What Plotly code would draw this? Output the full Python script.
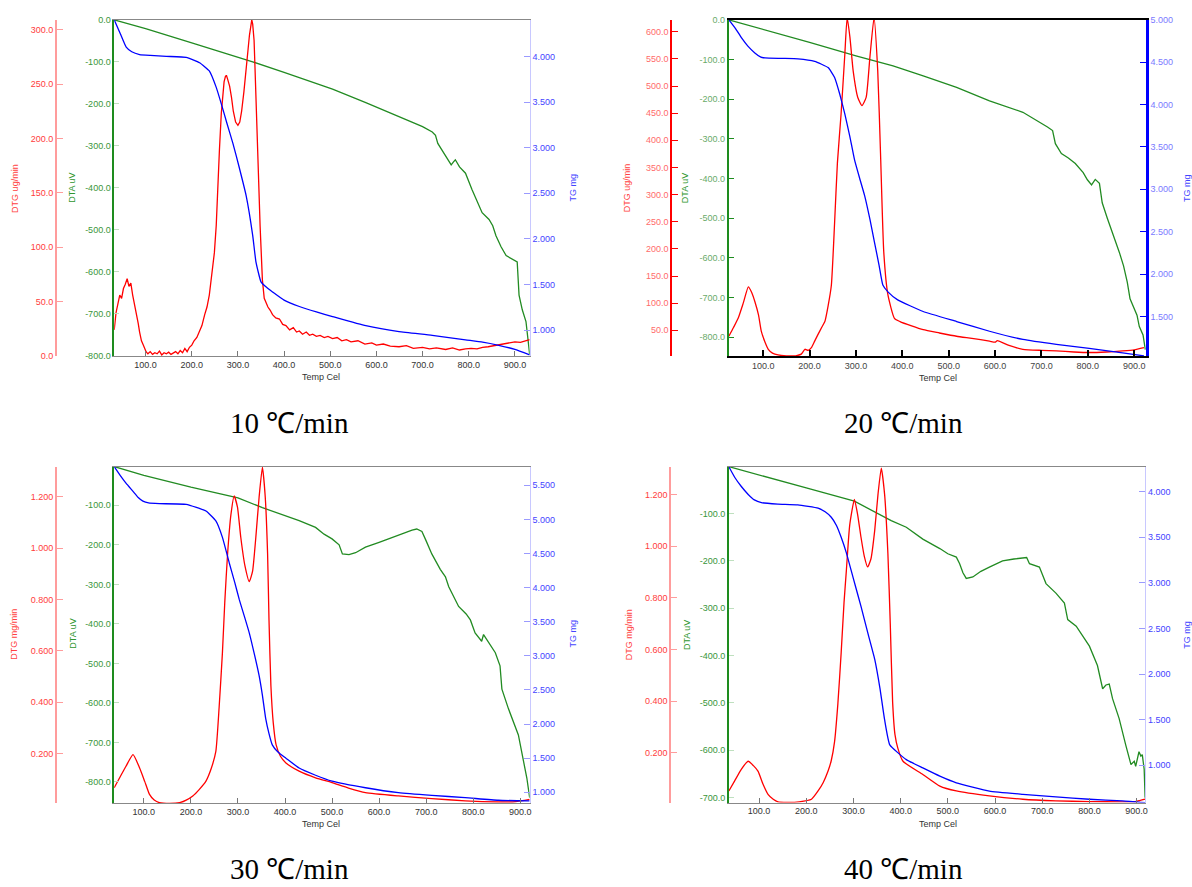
import plotly.graph_objects as go

# ---------------- data ----------------
# 10 C/min
T10_dtg = [32, 36, 40, 44, 48, 52, 56, 60, 64, 68, 72, 76, 80, 84, 87, 91, 95, 98, 101,
           105, 110, 115, 120, 125, 130, 135, 140, 145, 150, 155, 160, 165, 170, 175, 180, 185, 190, 195,
           200, 205, 211, 217, 222, 228, 233, 238, 243, 249, 253, 256, 260, 264, 267, 270, 273, 275, 278, 282,
           286, 290, 295, 300,
           304, 308, 313, 318, 322, 325, 328, 330, 332, 335, 337, 339, 342, 345, 348, 350, 353, 357, 361, 365,
           370, 375, 382, 390, 397, 404,
           412, 420, 427, 433, 440, 448, 455, 462, 470, 478, 487, 495, 505, 515, 525, 535, 545, 560, 575, 590,
           600, 615, 630, 649, 665, 680, 700, 715, 730, 750, 765, 780, 793, 805, 818, 830, 842, 855, 865, 877,
           890, 900, 912, 922, 932]
dtg10 = [24, 40, 48, 56, 53, 62, 66, 71, 64, 67, 56, 48, 38, 30, 22, 14, 10, 6, 4,
         2, 4, 1.5, 3, 2, 4.5, 1, 3, 2, 3.5, 1.5, 2.5, 4, 2, 5, 3, 7, 4, 8,
         10, 14, 17, 23, 28, 38, 45, 56, 72, 95, 120, 153, 190, 223, 240, 252, 257, 258, 254, 248,
         238, 225, 215, 212,
         215, 225, 243, 262, 282, 295, 305, 309, 305, 290, 265, 232, 195, 160, 120, 95, 70, 53, 48, 45,
         42, 38, 35, 34, 29, 28,
         24, 26, 22, 23, 20, 22, 19, 20, 18, 19, 17, 18, 16, 17, 14, 15, 13, 14, 11, 12,
         10, 11, 9, 8.5, 9.5, 7, 8, 6.5, 7.5, 6, 7.5, 5.5, 6.5, 7, 6.5, 8, 8.5, 9.5, 10.5, 11,
         12, 13, 12.5, 14, 15]
T10_tg = [32, 45, 58, 70, 87, 110, 145, 188, 217, 238, 253, 264, 276, 289, 303, 318, 332, 339, 350, 362,
          375, 400, 433, 470, 505, 577, 649, 721, 793, 830, 865, 900, 932]
tg10 = [4.40, 4.25, 4.10, 4.05, 4.02, 4.01, 4.00, 3.99, 3.93, 3.84, 3.66, 3.48, 3.27, 3.05, 2.78, 2.47, 2.04, 1.75, 1.53, 1.47,
        1.42, 1.33, 1.26, 1.20, 1.15, 1.05, 0.985, 0.945, 0.895, 0.87, 0.835, 0.79, 0.73]
T10_dta = [32, 100, 200, 300, 332, 400, 433, 469, 505, 577, 649, 700, 721, 728, 733, 747, 755, 762, 767, 771,
           780, 793, 807, 818, 829, 844, 852, 859, 870, 881, 895, 905, 909, 916, 924, 932]
dta10 = [0, -21, -55, -89, -100, -125, -138, -152, -165, -197, -231, -254, -267, -275, -294, -318, -330, -345, -338, -333,
         -350, -365, -404, -430, -459, -475, -490, -514, -540, -561, -570, -576, -655, -690, -718, -796]

# 20 C/min
T20_dtg = [26, 36, 46, 57, 68, 75, 82, 90, 96, 104, 111, 120, 132, 150, 170, 182, 190, 197, 204, 211,
           218, 226, 233, 240, 247, 254, 260, 268, 276, 281, 287, 294, 304, 313, 322, 330, 339, 347, 353, 360,
           369, 383, 395, 420, 445, 480, 517, 550, 588, 600, 605, 630, 660, 700, 732, 770, 803, 840, 875, 900, 921]
dtg20 = [39, 55, 72, 100, 130, 120, 103, 78, 48, 28, 15, 8, 4.5, 3, 3, 6, 15, 13, 18, 30,
         42, 55, 66, 95, 133, 248, 358, 449, 558, 626, 590, 528, 479, 464, 479, 552, 626, 528, 376, 194,
         115, 72, 66, 58, 51, 45, 39, 35, 30, 28, 31, 22, 15, 13, 12, 10, 9, 10, 12, 14, 18]
T20_tg = [26, 40, 53, 67, 82, 95, 104, 140, 175, 211, 240, 254, 265, 276, 287, 297, 308, 319, 330, 340,
          350, 358, 369, 390, 445, 517, 588, 660, 732, 803, 875, 921]
tg20 = [5.0, 4.90, 4.79, 4.69, 4.61, 4.56, 4.55, 4.545, 4.54, 4.51, 4.437, 4.32, 4.125, 3.89, 3.62, 3.347, 3.13, 2.92, 2.65, 2.375,
        2.10, 1.87, 1.79, 1.695, 1.558, 1.44, 1.325, 1.228, 1.17, 1.123, 1.07, 1.035]
T20_dta = [26, 100, 200, 300, 380, 445, 517, 588, 660, 713, 724, 730, 743, 758, 773, 790, 799, 808, 816, 825,
           831, 842, 853, 868, 877, 885, 891, 906, 911, 919, 924]
dta20 = [0, -24, -57, -91, -116, -141, -170, -204, -233, -270, -279, -312, -337, -348, -362, -385, -403, -416, -402, -412,
         -461, -500, -536, -586, -620, -661, -703, -744, -773, -794, -831]

# 30 C/min
T30_dtg = [37, 50, 62, 77, 91, 102, 112, 122, 133, 155, 176, 190, 204, 218, 232, 243, 253, 260, 267, 272,
           278, 285, 292, 299, 306, 315, 324, 331, 338, 345, 352, 358, 363, 366, 370, 375, 381, 390, 402, 430,
           465, 500, 535, 571, 641, 712, 783, 853, 890, 920]
dtg30 = [0.066, 0.11, 0.15, 0.195, 0.143, 0.09, 0.04, 0.018, 0.008, 0.005, 0.008, 0.018, 0.034, 0.06, 0.092, 0.14, 0.208, 0.38, 0.593, 0.79,
         0.979, 1.13, 1.204, 1.16, 1.043, 0.93, 0.87, 0.91, 1.043, 1.20, 1.316, 1.20, 0.979, 0.72, 0.465, 0.32, 0.234, 0.19, 0.163, 0.131,
         0.105, 0.086, 0.065, 0.047, 0.034, 0.024, 0.015, 0.011, 0.012, 0.021]
T30_tg = [37, 50, 62, 77, 88, 98, 110, 133, 190, 232, 253, 267, 282, 293, 303, 314, 324, 335, 345, 352,
          359, 366, 373, 385, 402, 430, 465, 500, 571, 641, 712, 783, 853, 920]
tg30 = [5.771, 5.64, 5.53, 5.41, 5.32, 5.267, 5.24, 5.23, 5.22, 5.122, 4.977, 4.736, 4.35, 4.08, 3.82, 3.57, 3.336, 3.02, 2.709, 2.42,
        2.08, 1.86, 1.695, 1.59, 1.50, 1.356, 1.25, 1.164, 1.067, 0.995, 0.955, 0.922, 0.884, 0.874]
T30_dta = [37, 100, 200, 300, 352, 430, 465, 483, 500, 515, 522, 536, 550, 571, 600, 628, 650, 670, 680, 691,
           700, 712, 730, 741, 748, 760, 769, 785, 794, 804, 818, 822, 835, 847, 857, 861, 875, 896, 907, 914, 920]
dta30 = [-2, -24, -54, -81, -106, -139, -156, -173, -185, -200, -223, -225, -220, -206, -194, -181, -172, -163, -160, -166,
         -190, -223, -262, -281, -306, -335, -356, -375, -390, -423, -444, -427, -450, -473, -506, -565, -615, -681, -748, -790, -840]

# 40 C/min
T40_dtg = [36, 48, 62, 77, 88, 98, 108, 119, 130, 140, 160, 185, 211, 225, 236, 246, 253, 260, 267, 274,
           280, 285, 292, 302, 309, 316, 323, 330, 337, 345, 352, 359, 366, 373, 378, 383, 388, 394, 405, 447,
           483, 518, 588, 659, 729, 800, 870, 900, 918]
dtg40 = [0.052, 0.09, 0.135, 0.167, 0.15, 0.128, 0.08, 0.039, 0.02, 0.01, 0.008, 0.01, 0.02, 0.052, 0.085, 0.128, 0.17, 0.243, 0.39, 0.588,
         0.78, 0.906, 1.08, 1.181, 1.12, 1.034, 0.96, 0.919, 0.95, 1.06, 1.20, 1.302, 1.20, 0.97, 0.70, 0.396, 0.27, 0.218, 0.167, 0.116,
         0.071, 0.052, 0.033, 0.02, 0.014, 0.011, 0.01, 0.012, 0.02]
T40_tg = [36, 49, 62, 77, 90, 105, 140, 182, 225, 240, 253, 264, 274, 285, 295, 305, 316, 330, 345, 356,
          366, 377, 412, 447, 483, 518, 588, 659, 729, 800, 870, 918]
tg40 = [4.274, 4.153, 4.06, 3.97, 3.91, 3.88, 3.865, 3.856, 3.82, 3.78, 3.72, 3.63, 3.50, 3.33, 3.14, 2.95, 2.743, 2.46, 2.164, 1.85,
        1.50, 1.224, 1.062, 0.971, 0.881, 0.808, 0.718, 0.682, 0.653, 0.628, 0.61, 0.59]
T40_dta = [36, 100, 200, 302, 380, 412, 447, 483, 500, 518, 525, 532, 539, 553, 570, 588, 616, 640, 659, 667,
           673, 694, 708, 729, 747, 754, 772, 800, 817, 828, 835, 842, 849, 863, 877, 888, 895, 898, 905, 909,
           912, 916, 918]
dta40 = [-1, -19, -46, -74, -115, -129, -154, -174, -185, -192, -206, -225, -237, -234, -222, -213, -200, -196, -195, -193,
         -206, -213, -248, -268, -289, -324, -338, -380, -421, -470, -462, -460, -491, -533, -589, -630, -623, -634, -603, -612,
         -609, -640, -700]

# tick label values
temp_ticks = [100, 200, 300, 400, 500, 600, 700, 800, 900]
dtg10_ticks = [0, 50, 100, 150, 200, 250, 300]
dtg20_ticks = [50, 100, 150, 200, 250, 300, 350, 400, 450, 500, 550, 600]
dtg3040_ticks = [0.2, 0.4, 0.6, 0.8, 1.0, 1.2]
dta_ticks_0 = [0, -100, -200, -300, -400, -500, -600, -700, -800]
dta_ticks_30 = [-100, -200, -300, -400, -500, -600, -700, -800]
dta_ticks_40 = [-100, -200, -300, -400, -500, -600, -700]
tg10_ticks = [1.0, 1.5, 2.0, 2.5, 3.0, 3.5, 4.0]
tg20_ticks = [1.5, 2.0, 2.5, 3.0, 3.5, 4.0, 4.5, 5.0]
tg30_ticks = [1.0, 1.5, 2.0, 2.5, 3.0, 3.5, 4.0, 4.5, 5.0, 5.5]
tg40_ticks = [1.0, 1.5, 2.0, 2.5, 3.0, 3.5, 4.0]

captions = ["10 ℃/min", "20 ℃/min", "30 ℃/min", "40 ℃/min"]

# ---------------- layout helpers ----------------
W, H = 1192, 887
def fx(p): return p / W
def fy(p): return 1 - p / H
def fmt(v, d): return f"{v:.{d}f}"

RED, GREEN, BLUE = "#ff0000", "#228b22", "#0000ff"
FONT = "Liberation Sans, Arial, sans-serif"

panels = [
    dict(cap=captions[0], cap_xy=(290, 423), x0=114.5, x1=531, y0=15, y1=355, dtg_x=56,
         xr=[32, 932], dtgr=[0, 309], dtar=[-800, 0], tgr=[0.718, 4.40],
         dtg=(T10_dtg, dtg10), tg=(T10_tg, tg10), dta=(T10_dta, dta10), dtg_shape="linear",
         dtgt=dtg10_ticks, dtgd=1, dtat=dta_ticks_0, tgt=tg10_ticks, dtg_title="DTG ug/min",
         bold=False, titles=(15, 72, 574, 185), tempxy=(322, 376)),
    dict(cap=captions[1], cap_xy=(906, 423), x0=730.7, x1=1148.7, y0=15, y1=355, dtg_x=673,
         xr=[26, 925], dtgr=[2.6, 622], dtar=[-847, 0], tgr=[1.033, 5.0],
         dtg=(T20_dtg, dtg20), tg=(T20_tg, tg20), dta=(T20_dta, dta20), dtg_shape="spline",
         dtgt=dtg20_ticks, dtgd=1, dtat=dta_ticks_0, tgt=tg20_ticks, dtg_title="DTG ug/min",
         bold=True, titles=(628, 687, 1190, 185), tempxy=(940, 377)),
    dict(cap=captions[2], cap_xy=(290, 874), x0=114.5, x1=531, y0=467, y1=807, dtg_x=56,
         xr=[37, 920], dtgr=[0.007, 1.318], dtar=[-853, -2.4], tgr=[0.845, 5.771],
         dtg=(T30_dtg, dtg30), tg=(T30_tg, tg30), dta=(T30_dta, dta30), dtg_shape="spline",
         dtgt=dtg3040_ticks, dtgd=3, dtat=dta_ticks_30, tgt=tg30_ticks, dtg_title="DTG mg/min",
         bold=False, titles=(14, 73, 574, 636), tempxy=(322, 828)),
    dict(cap=captions[3], cap_xy=(906, 874), x0=730.7, x1=1148, y0=467, y1=806.7, dtg_x=671.7,
         xr=[36, 918], dtgr=[0.007, 1.307], dtar=[-710.4, -1.2], tgr=[0.591, 4.274],
         dtg=(T40_dtg, dtg40), tg=(T40_tg, tg40), dta=(T40_dta, dta40), dtg_shape="spline",
         dtgt=dtg3040_ticks, dtgd=3, dtat=dta_ticks_40, tgt=tg40_ticks, dtg_title="DTG mg/min",
         bold=False, titles=(630, 689, 1190, 637), tempxy=(940, 828)),
]

fig = go.Figure()
layout = dict(width=W, height=H, margin=dict(l=0, r=0, t=0, b=0), paper_bgcolor="white",
              plot_bgcolor="white", showlegend=False, annotations=[])

def ann(text, x, y, font, angle=0):
    return dict(text=text, x=fx(x), y=fy(y), xref="paper", yref="paper", showarrow=False,
                xanchor="center", yanchor="middle", textangle=angle, font=font)

for i, p in enumerate(panels):
    xn = "x" if i == 0 else f"x{i+1}"
    xa = "xaxis" if i == 0 else f"xaxis{i+1}"
    k = 3 * i + 1
    ydta = "y" if k == 1 else f"y{k}"
    ydtg = f"y{k+1}"
    ytg = f"y{k+2}"
    ydom = [fy(p["y1"]), fy(p["y0"])]
    b = p["bold"]

    xcol = "#000000" if b else "#888888"
    layout[xa] = dict(domain=[fx(p["x0"]), fx(p["x1"])], anchor=ydta, range=p["xr"],
                      showline=True, linecolor=xcol, linewidth=2 if b else 1, mirror=True,
                      ticks="inside", ticklen=6 if b else 5, tickwidth=2 if b else 1,
                      tickcolor="#000" if b else "#777",
                      tickvals=temp_ticks, ticktext=[fmt(v, 1) for v in temp_ticks],
                      tickfont=dict(family=FONT, size=9, color="#444" if b else "#333"),
                      showgrid=False, zeroline=False)
    # DTA (base, left)
    layout["yaxis" if k == 1 else f"yaxis{k}"] = dict(
        domain=ydom, anchor=xn, range=p["dtar"], side="left",
        showline=True, linecolor="#1e8c1e", linewidth=2 if b else 1.5,
        ticks="inside", ticklen=5, tickcolor="#1e8c1e" if b else "#bfe0bf",
        tickvals=p["dtat"], ticktext=[fmt(v, 1) for v in p["dtat"]],
        tickfont=dict(family=FONT, size=9, color="#6aaa6a" if b else "#3a963a"),
        showgrid=False, zeroline=False)
    # DTG (free, far left)
    layout[f"yaxis{k+1}"] = dict(
        domain=ydom, anchor="free", position=fx(p["dtg_x"]), overlaying=ydta, side="left",
        range=p["dtgr"], showline=True, linecolor="#ff0000" if b else "#ff9c9c",
        linewidth=2 if b else 1.5, ticks="inside", ticklen=6,
        tickcolor="#ff0000" if b else "#ff9c9c",
        tickvals=p["dtgt"], ticktext=[fmt(v, p["dtgd"]) for v in p["dtgt"]],
        tickfont=dict(family=FONT, size=9, color="#ff6a6a" if b else "#ff3c3c"),
        showgrid=False, zeroline=False)
    # TG (right)
    layout[f"yaxis{k+2}"] = dict(
        domain=ydom, anchor=xn, overlaying=ydta, side="right", range=p["tgr"],
        showline=True, linecolor="#0000ff" if b else "#c8c8ff", linewidth=3 if b else 1,
        ticks="inside", ticklen=6, tickcolor="#0000ff" if b else "#9a9aff",
        tickvals=p["tgt"], ticktext=[fmt(v, 3) for v in p["tgt"]],
        tickfont=dict(family=FONT, size=9, color="#7a7aff" if b else "#4444ff"),
        showgrid=False, zeroline=False)

    fig.add_trace(go.Scatter(x=p["tg"][0], y=p["tg"][1], xaxis=xn, yaxis=ytg, mode="lines",
                             line=dict(color=BLUE, width=1.3, shape="spline", smoothing=0.4)))
    fig.add_trace(go.Scatter(x=p["dta"][0], y=p["dta"][1], xaxis=xn, yaxis=ydta, mode="lines",
                             line=dict(color=GREEN, width=1.3)))
    dline = dict(color=RED, width=1.3, shape=p["dtg_shape"])
    if p["dtg_shape"] == "spline":
        dline["smoothing"] = 0.5
    fig.add_trace(go.Scatter(x=p["dtg"][0], y=p["dtg"][1], xaxis=xn, yaxis=ydtg, mode="lines",
                             line=dline))

    tx1, tx2, tx3, ty = p["titles"]
    for txt, xx, col in [(p["dtg_title"], tx1, "#ff4040"), ("DTA uV", tx2, "#2e962e"), ("TG mg", tx3, "#4444ff")]:
        layout["annotations"].append(ann(txt, xx, ty, dict(family=FONT, size=9, color=col), -90))
    layout["annotations"].append(ann("Temp Cel", p["tempxy"][0], p["tempxy"][1],
                                     dict(family=FONT, size=9, color="#333")))
    layout["annotations"].append(ann(p["cap"], p["cap_xy"][0], p["cap_xy"][1],
                                     dict(family="Liberation Serif, Times New Roman, serif", size=29, color="#000")))

fig.update_layout(**layout)
fig.write_html("out.html", config={"displayModeBar": False},
               post_script="document.body.style.margin='0px';document.body.style.padding='0px';")
